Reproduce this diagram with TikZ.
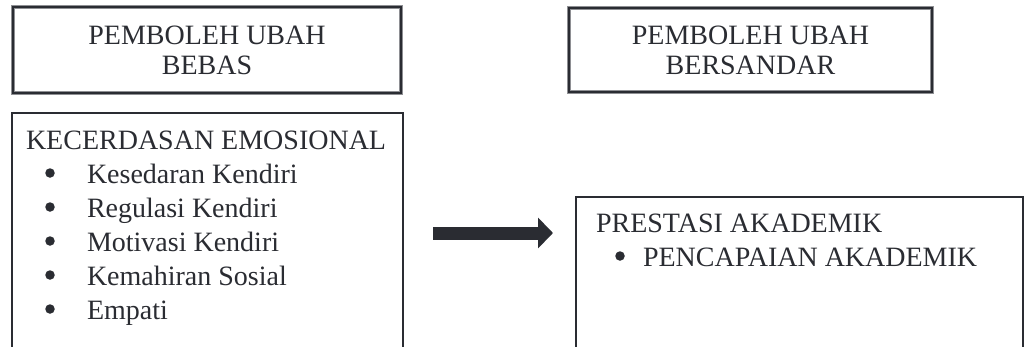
\documentclass[tikz,border=0pt]{standalone}
\usepackage{fontspec}
\setmainfont{Liberation Serif}
\usetikzlibrary{arrows.meta}
\definecolor{ink}{HTML}{2A2C32}
\definecolor{rim}{HTML}{8E8F93}
\begin{document}
\begin{tikzpicture}[x=1pt,y=-1pt,
  txt/.style={font=\fontsize{28}{34}\selectfont, text=ink, inner sep=0pt, outer sep=0pt},
  headbox/.style={preaction={draw=rim, line width=4pt}, draw=ink, line width=2pt,
    font=\fontsize{28}{30}\selectfont, text=ink, align=center, inner sep=0pt, outer sep=0pt},
  listbox/.style={draw=ink, line width=1.5pt, inner sep=0pt, outer sep=0pt},
  dotmark/.style={circle, fill=ink, minimum size=9.5pt, inner sep=0pt},
  bigarrow/.style={draw=ink, line width=13pt, -{Triangle[length=15pt, width=30pt]}}]
\useasboundingbox (0,0) rectangle (1027,346);
\fill[white] (0,0) rectangle (1027,346);
\clip (0,0) rectangle (1027,346);

% heading boxes
\node[headbox, minimum width=388pt, minimum height=86pt] (bebas) at (207,50)
  {PEMBOLEH UBAH\\BEBAS};
\node[headbox, minimum width=363pt, minimum height=84pt] (sandar) at (750.5,50)
  {PEMBOLEH UBAH\\BERSANDAR};

% independent variable
\node[listbox, anchor=north west, minimum width=391pt, minimum height=260pt] (emo) at (12,113) {};
\node[txt, anchor=base west] (emoT) at (26,149) {KECERDASAN EMOSIONAL};
\node[txt, anchor=base west] (e1) at (87,183) {Kesedaran Kendiri};
\node[txt, anchor=base west] (e2) at (87,217) {Regulasi Kendiri};
\node[txt, anchor=base west] (e3) at (87,251) {Motivasi Kendiri};
\node[txt, anchor=base west] (e4) at (87,285) {Kemahiran Sosial};
\node[txt, anchor=base west] (e5) at (87,319) {Empati};
\foreach \i/\y in {1/173, 2/207, 3/241, 4/275, 5/309}
  \node[dotmark] (d\i) at (50,\y) {};

% dependent variable
\node[listbox, anchor=north west, minimum width=447pt, minimum height=180pt] (pres) at (576,197) {};
\node[txt, anchor=base west] (presT) at (596,232) {PRESTASI AKADEMIK};
\node[txt, anchor=base west] (p1) at (643,266) {PENCAPAIAN AKADEMIK};
\node[dotmark] (dp) at (620,256) {};

% relation arrow
\coordinate (aFrom) at (433,233);
\coordinate (aTo) at (553,233);
\draw[bigarrow] (aFrom) -- (aTo);
\end{tikzpicture}
\end{document}
